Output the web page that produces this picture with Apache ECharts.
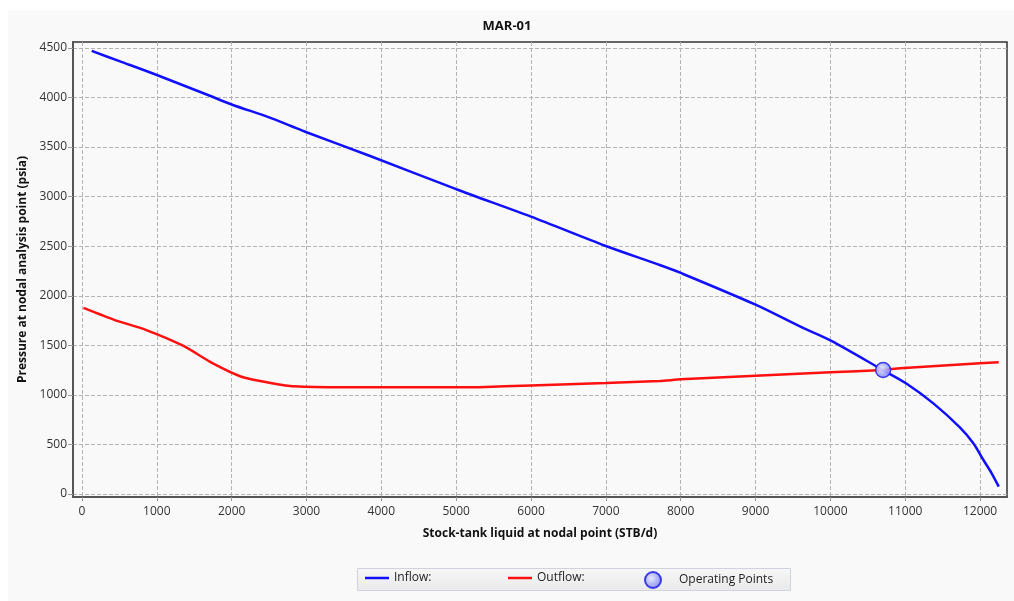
<!DOCTYPE html>
<html>
<head>
<meta charset="utf-8">
<script src="https://cdn.jsdelivr.net/npm/echarts@6/dist/echarts.min.js"></script>
<style>
html,body{margin:0;padding:0;background:#ffffff;}
#bg{position:absolute;left:8px;top:10px;width:1006px;height:591px;background:#f9f9f9;}
#chart{position:absolute;left:0;top:0;width:1014px;height:601px;}
</style>
</head>
<body>
<div id="bg"></div>
<div id="chart"></div>
<script>
const xTicks = [0,1000,2000,3000,4000,5000,6000,7000,8000,9000,10000,11000,12000];
const yTicks = [0,500,1000,1500,2000,2500,3000,3500,4000,4500];

const inflowX = [130,500,1000,1700,2000,2500,2800,3000,3850,5000,6000,7000,7720,8000,9000,9600,10000,10700,11010,11380,11730,11910,12045,12155,12250];
const inflowY = [4470,4367,4227,4020,3930,3800,3710,3650,3410,3075,2798,2502,2310,2230,1910,1688,1550,1251,1117,912,672,512,343,209,74];

const outflowX = [20,440,860,1350,1750,2130,2380,2780,3300,4000,5000,5300,6000,7000,7720,8000,9000,10000,10700,10930,12000,12250];
const outflowY = [1878,1755,1654,1496,1318,1183,1140,1090,1078,1076,1076,1078,1095,1120,1140,1157,1194,1228,1251,1268,1319,1330];

const opX = [10705];
const opY = [1251];

const seriesNames = ['Inflow:', 'Outflow:', 'Operating Points'];

const toPairs = (xs, ys) => xs.map((x, i) => [x, ys[i]]);

const chart = echarts.init(document.getElementById('chart'));
const font = '"Open Sans", "Noto Sans", sans-serif';
const opColor = {
  type: 'radial', x: 0.4, y: 0.4, r: 0.7,
  colorStops: [{offset: 0, color: '#e6e8ff'}, {offset: 1, color: '#6f72ee'}]
};
const plain = v => String(v);

chart.setOption({
  backgroundColor: 'transparent',
  animation: false,
  title: {
    text: 'MAR-01', left: 'center', top: 15,
    textStyle: {fontFamily: font, fontSize: 13, fontWeight: 'bold', color: '#111'}
  },
  graphic: [{
    type: 'rect', left: 357, top: 568, z: -1,
    shape: {width: 433, height: 22},
    style: {
      fill: {type: 'linear', x: 0, y: 0, x2: 0, y2: 1,
        colorStops: [{offset: 0, color: '#f7f7f7'}, {offset: 1, color: '#e9e9e9'}]},
      stroke: '#cfd4dc', lineWidth: 1
    }
  }],
  legend: [
    {data: [seriesNames[0]], left: 360, top: 567, itemWidth: 24, itemHeight: 14, itemGap: 0,
      textStyle: {fontFamily: font, fontSize: 12, color: '#222'}, icon: 'path://M0,6 L24,6 L24,8.5 L0,8.5 Z'},
    {data: [seriesNames[1]], left: 503, top: 567, itemWidth: 24, itemHeight: 14, itemGap: 0,
      textStyle: {fontFamily: font, fontSize: 12, color: '#222'}, icon: 'path://M0,6 L24,6 L24,8.5 L0,8.5 Z'},
    {data: [seriesNames[2]], left: 639, top: 566, itemWidth: 16, itemHeight: 16, itemGap: 0,
      textStyle: {fontFamily: font, fontSize: 12, color: '#222', padding: [0, 0, 0, 13]}, icon: 'circle'}
  ],
  grid: {
    left: 73, right: 7, top: 42, bottom: 104,
    show: true, borderColor: '#333', borderWidth: 1.5, backgroundColor: 'transparent'
  },
  xAxis: {
    type: 'value', min: -120, max: 12360,
    name: 'Stock-tank liquid at nodal point (STB/d)',
    nameLocation: 'middle', nameGap: 31,
    nameTextStyle: {fontFamily: font, fontSize: 12, fontWeight: 'bold', color: '#111'},
    axisLine: {show: true, onZero: false, lineStyle: {color: '#555', width: 2}},
    axisTick: {show: true, length: 4, customValues: xTicks, lineStyle: {color: '#999'}},
    axisLabel: {customValues: xTicks, formatter: plain, fontFamily: font, fontSize: 12, color: '#333', margin: 9},
    splitLine: {show: true, lineStyle: {color: '#b4b4b4', type: [4, 2], width: 1}}
  },
  yAxis: {
    type: 'value', min: -30, max: 4560,
    name: 'Pressure at nodal analysis point (psia)',
    nameLocation: 'middle', nameGap: 35,
    nameTextStyle: {fontFamily: font, fontSize: 12, fontWeight: 'bold', color: '#111'},
    axisLine: {show: true, onZero: false, lineStyle: {color: '#555', width: 2}},
    axisTick: {show: true, length: 5, customValues: yTicks, lineStyle: {color: '#999'}},
    axisLabel: {customValues: yTicks, formatter: plain, fontFamily: font, fontSize: 12, color: '#333', margin: 6},
    splitLine: {show: true, lineStyle: {color: '#b4b4b4', type: [4, 2], width: 1}}
  },
  series: [
    {
      name: seriesNames[0], type: 'line', data: toPairs(inflowX, inflowY),
      showSymbol: false, symbol: 'none', smooth: 0.3,
      lineStyle: {color: '#1010ff', width: 2.5}, itemStyle: {color: '#1010ff'}, z: 3
    },
    {
      name: seriesNames[1], type: 'line', data: toPairs(outflowX, outflowY),
      showSymbol: false, symbol: 'none', smooth: 0.2,
      lineStyle: {color: '#ff1010', width: 2.5}, itemStyle: {color: '#ff1010'}, z: 2
    },
    {
      name: seriesNames[2], type: 'scatter', data: toPairs(opX, opY),
      symbol: 'circle', symbolSize: 15,
      itemStyle: {color: opColor, borderColor: '#2a2ae6', borderWidth: 1.5, opacity: 0.9}, z: 4
    }
  ]
});
</script>
</body>
</html>
